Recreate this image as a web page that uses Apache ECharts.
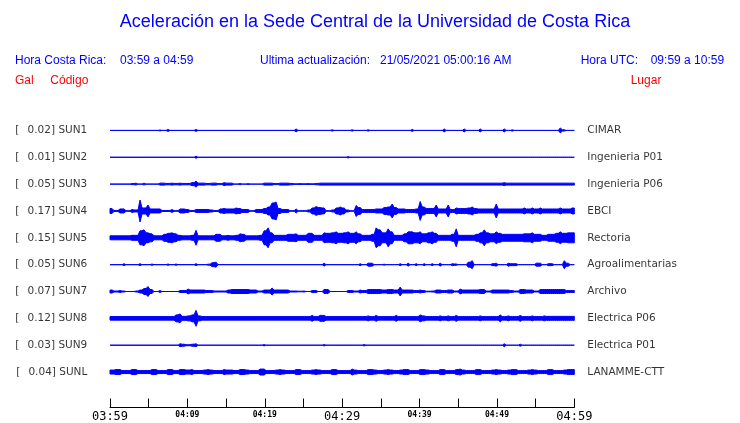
<!DOCTYPE html>
<html>
<head>
<meta charset="utf-8">
<script src="https://cdn.jsdelivr.net/npm/echarts@6/dist/echarts.min.js"></script>
<style>html,body{margin:0;padding:0;background:#fff}#c{width:740px;height:423px}</style>
</head>
<body>
<div id="c"></div>
<script>
// ---- data ----
const STATIONS = ['SUN1','SUN2','SUN3','SUN4','SUN5','SUN6','SUN7','SUN8','SUN9','SUNL'];
const PLACES = ['CIMAR','Ingenieria P01','Ingenieria P06','EBCI','Rectoria','Agroalimentarias','Archivo','Electrica P06','Electrica P01','LANAMME-CTT'];
const GAL = [0.02,0.01,0.05,0.17,0.15,0.05,0.07,0.12,0.03,0.04];
const TICK_MINUTES = [0,10,20,30,40,50,60];
const TICK_LABELS = ['03:59','04:09','04:19','04:29','04:39','04:49','04:59'];
const MAJOR_LABELS = ['03:59','04:29','04:59'];

// trace envelopes: half-amplitude per 30-second bin (116 bins over the hour)
const AMP_SUN1 = [
0,0,0,0,0,0,0,0,0,0,
0,0,0.5,0,1,0,0,0,0,0,
0,1,0,0,0,0,0,0,0,0,
0,0,0,0,0,0,0,0,0,0,
0,0,0,0,0,0,1.5,0,0,0,
0,0,0,0,0,0.7,0,0,0,0,
0.7,0,0,0,0.7,0,0,0,0,0,
0,0,0,0,0,1,0,0,0,0,
0,0,0,1.5,0,0,0,0,1.5,0,
0,0,1.5,0,0,0,0,0,1.5,0,
0.7,0,0,0,0,0,0,0,0,0,
0,0,2.5,0.7,0,0];
const AMP_SUN2 = [
0,0,0,0,0,0,0,0,0,0,
0,0,0,0,0,0,0,0,0,0,
0,1,0,0,0,0,0,0,0,0,
0,0,0,0,0,0,0,0,0,0,
0,0,0,0,0,0,0,0,0,0,
0,0,0,0,0,0,0,0,0,0.7,
0,0,0,0,0,0,0,0,0,0,
0,0,0,0,0,0,0,0,0,0,
0,0,0,0,0,0,0,0,0,0,
0,0,0,0,0,0,0,0,0,0,
0,0,0,0,0,0,0,0,0,0,
0,0,0,0,0,0];
const AMP_SUN3 = [
0,0,0,0,0,0.5,1,0,1,0,
0,0,1,1,0.7,1,0.7,1,0.7,0.7,
1.5,3,1,1,0.7,1,1,0.5,1.5,1,
1,0,0.7,0,0.5,0,0,0,1,1,
1,0.5,1,1,1,0.7,0.3,0.5,0.3,0.5,
0.3,0.7,1,1,1,1,1,1,1,1,
1,1,1,1,1,1,1,1,1,1,
1,1,1,1,1,1,1,1,1,1,
1,1,1,1,1,1,1,1,1,1,
1,1,1,1,1,1,1,1,1.5,1,
1,1,1,1,1,1,1,1,1,1,
1,1,1,1,1,1];
const AMP_SUN4 = [
2.5,0.5,2,2,0.3,1.5,1,11,3,6,
2,2,2,0.5,0.5,1.5,0.3,2,2,1.5,
0.5,1.5,1.5,1.5,1.5,1,0.5,2,2.5,2,
2,3,2.5,1.5,1.5,0.3,1.5,1.5,2.5,4,
8,9,2.5,1.5,1.5,0.3,2,0.3,0.3,1,
3,4.5,3.5,3,0.3,1,3,4,3,1,
0.3,5.5,3.5,1.5,1.5,1.5,2,2,3.5,4,
7,3.5,2,2,1.5,1.5,2,9.5,4,2.5,
2.5,6,2,2,6,1.5,3,2.5,2.5,3,
4,2.5,2,2,2,2,7,2,2,2,
2,2,2,3,2,3,2,3,2,2,
2,2,3,2,2,3];
const AMP_SUN5 = [
2,2,2,2,2,2.5,2.5,7,8,5,
4,2,2,3.5,4.5,5,4,2.5,2,2,
2.5,7.5,2,2,2,2,3.5,3.5,2,2.5,
2,2.5,4,3.5,2,2,2,2.5,7,10,
5,2.5,2.5,2.5,3.5,3.5,4,2.5,2.5,4.5,
4.5,2.5,2.5,5,4.5,5,6,4.5,5,6,
4.5,6,4,2.5,2.5,3.5,10,8,5,9,
6,2.5,2.5,4,6,6,5,6,4,5,
6,4.5,2.5,2.5,2.5,3.5,9,2.5,2.5,2.5,
2.5,3.5,5,8,5,4,6,4.5,3.5,3.5,
3.5,3.5,3.5,4,4,5,3.5,3.5,2.5,3.5,
3.5,4.5,6,4.5,5,5];
const AMP_SUN6 = [
0,0,0,1,0,0,0,1,0,0,
0.7,0,0,0,0.7,0,0.7,0,0,0,
0,1,0,0,0.5,2,2.5,0,0,0,
0,0,0,0,0,0,0,0,0,0,
0,0,0,0,0,0,0,0,0,0,
0,0,0,1.5,0,0,0,0,0,0,
0,0,1,0,1.5,1.5,0,0,0.5,0,
0,0,1,0,1.5,0,1,0,1,0,
1,0,1.5,0,0,1,0.7,0,0,2.5,
4,0,0,0,0,1,1.5,0,0,1.5,
1,1,0,0,0,0,1.5,1.5,0,1,
1,0,0,4,1.5,0];
const AMP_SUN7 = [
1.5,0.5,1,0.5,0,0,0.5,1.5,3,5,
2,0,1,0,0,0,0,1,1,2.5,
1.5,1.5,1.5,1.5,1,1,0.5,0.5,0.5,1.5,
2,2,2,2,2,1.5,1.5,0.5,1.5,1.5,
3.5,1.5,1.5,1.5,1.5,0.5,0.5,0.3,0.5,0,
1,1,0,2,2,0,0,0,0,1,
1,0.5,1.5,1,2,2,2,2,1.5,2,
2,1.5,4.5,1.5,1.5,1.5,1,1.5,1,0.3,
0.5,1.5,1.5,1,1.5,1.5,0.5,2.5,1.5,1.5,
1.5,1.5,2,2,0.5,1.5,1.5,1.5,1.5,1.5,
1,0.5,2,2,1.5,1.5,0.5,2,2,2,
2,2,2,2,1,1];
const AMP_SUN8 = [
1.8,1.8,1.8,1.8,1.8,1.8,1.8,1.8,1.8,1.8,
1.8,1.8,1.8,1.8,1.8,1.8,3.5,4.5,2,2.5,
3.5,8,2.5,1.8,1.8,1.8,1.8,1.8,1.8,1.8,
1.8,1.8,1.8,1.8,1.8,1.8,1.8,1.8,1.8,1.8,
1.8,1.8,1.8,1.8,1.8,1.8,1.8,1.8,1.8,1.8,
3,1.8,3,3,1.8,1.8,1.8,1.8,1.8,1.8,
1.8,1.8,1.8,1.8,2.5,1.8,3,1.8,1.8,1.8,
1.8,3,1.8,1.8,1.8,1.8,1.8,3.5,2.5,1.8,
1.8,1.8,2.5,1.8,2.5,1.8,3,1.8,1.8,1.8,
1.8,1.8,2.5,1.8,1.8,1.8,1.8,3.5,1.8,2.5,
1.8,1.8,3,1.8,1.8,2.5,1.8,1.8,2.5,2,
2,2,2,2,2,2];
const AMP_SUN9 = [
0,0,0,0,0,0,0,0,0,0,
0,0,0,0,0,0,0,1.5,1,0.5,
1,1.5,0,0,0,0,0,0,0,0,
0,0,0,0,0,0,0,0,0.7,0,
0,0,0,0,0,0,0,0,0,0,
0,0,0,0.7,0,0,0,0,0,0,
0,0,0,0.7,0,0,0,0,0,0,
0,0,0,0,0,0,0,0,0,0,
0,0,0,0,0,0,0,0,0,0,
0,0,0,0,0,0,0,0,1.5,0,
0,0,1,0,0,0,0,0,0,0,
0,0,0,0,0,0];
const AMP_SUNL = [
2,2.5,2.5,1.5,1.5,2.5,2.5,1.5,1.5,1.5,
2.5,2.5,1.5,1.5,2.5,2.5,1.5,2.5,2.5,2,
2.5,1.5,1.5,2,2.5,2,1.5,1.5,2.5,2,
2,1.5,2.5,2.5,2,1.5,1.5,3,3,1.5,
1.5,2,2.5,2,1.5,1.5,2.5,2.5,1.5,1.5,
2,2.5,2,1.5,1.5,2.5,2.5,1.5,1.5,1.5,
3,2,1.5,1.5,2.5,2.5,2,1.5,2,2.5,
2,1.5,2,2.5,2.5,1.5,1.5,2.5,2.5,2,
1.5,1.5,2.5,2.5,1.5,1.5,2.5,3,2,1.5,
1.5,2.5,2.5,1.5,1.5,2,2.5,2,1.5,2,
2.5,2.5,1.5,1.5,2,2.5,2,1.5,1.5,2.5,
2.5,1.5,1.5,2,2.5,2.5];
const AMPS = [AMP_SUN1,AMP_SUN2,AMP_SUN3,AMP_SUN4,AMP_SUN5,AMP_SUN6,AMP_SUN7,AMP_SUN8,AMP_SUN9,AMP_SUNL];

// ---- drawing ----
const BLUE = '#0000ff';
const RED = '#ff0000';
const ROW_GAIN = 1 / 27;           // amplitude units -> row units

// each trace is one custom item: an envelope polygon that peaks at each bin centre
// and drops to the lower neighbouring value at bin edges (gives spiky, solid bands)
function renderTrace(params, api) {
  const row = api.value(1);
  const amp = AMPS[params.dataIndex];
  const n = amp.length;
  function edge(i) {
    if (i <= 0) return amp[0];
    if (i >= n) return amp[n - 1];
    return Math.min(amp[i - 1], amp[i]);
  }
  const top = [], bot = [];
  for (let i = 0; i < n; i++) {
    top.push(api.coord([i, row - edge(i) * ROW_GAIN]), api.coord([i + 0.5, row - amp[i] * ROW_GAIN]));
    bot.push(api.coord([i, row + edge(i) * ROW_GAIN]), api.coord([i + 0.5, row + amp[i] * ROW_GAIN]));
  }
  top.push(api.coord([n, row - edge(n) * ROW_GAIN]));
  bot.push(api.coord([n, row + edge(n) * ROW_GAIN]));
  return {
    type: 'polygon',
    shape: { points: top.concat(bot.reverse()) },
    style: { fill: BLUE, stroke: BLUE, lineWidth: 1, lineJoin: 'bevel' }
  };
}

const series = [{
  type: 'custom', xAxisIndex: 1, yAxisIndex: 0, silent: true, animation: false, clip: false,
  data: STATIONS.map(function (s, i) { return [0, i]; }),
  renderItem: renderTrace
}];

series.push({
  type: 'scatter', xAxisIndex: 0, yAxisIndex: 0, symbolSize: 0, silent: true, animation: false,
  data: STATIONS.map(function (s, i) { return [0, i]; }),
  label: {
    show: true, position: 'left', distance: 22.7,
    fontFamily: 'DejaVu Sans', fontSize: 10.5, color: '#000',
    formatter: function (p) {
      const i = p.dataIndex;
      return '{a|[}' + GAL[i].toFixed(2) + '] ' + STATIONS[i];
    },
    rich: { a: { width: 12.3, align: 'left', fontFamily: 'DejaVu Sans', fontSize: 10.5, color: '#000' } }
  }
});
series.push({
  type: 'scatter', xAxisIndex: 0, yAxisIndex: 0, symbolSize: 0, silent: true, animation: false,
  data: PLACES.map(function (s, i) { return [60, i]; }),
  label: {
    show: true, position: 'right', distance: 13,
    fontFamily: 'DejaVu Sans', fontSize: 10.5, color: '#000',
    formatter: function (p) { return PLACES[p.dataIndex]; }
  }
});

function hdr(text, x, y, size, color, align) {
  return {
    type: 'text', x: x, y: y, silent: true,
    style: {
      text: text, fill: color, font: size + 'px "Liberation Sans", Arial, sans-serif',
      textAlign: align || 'left', align: align || 'left',
      textVerticalAlign: 'middle', verticalAlign: 'middle'
    }
  };
}

const option = {
  animation: false,
  backgroundColor: '#fff',
  grid: { left: 110, right: 165.7, top: 117, bottom: 13.5, containLabel: false },
  xAxis: [{
    type: 'value', min: 0, max: 60, interval: 5,
    axisLine: { show: true, onZero: false, lineStyle: { color: '#000', width: 1 } },
    axisTick: { show: true, inside: true, length: 9, lineStyle: { color: '#000', width: 1 } },
    splitLine: { show: false },
    axisLabel: {
      show: true, margin: 3, showMinLabel: true, showMaxLabel: true,
      formatter: function (v) {
        const idx = TICK_MINUTES.indexOf(v);
        if (idx < 0) return '';
        const lbl = TICK_LABELS[idx];
        return MAJOR_LABELS.indexOf(lbl) >= 0 ? '{big|' + lbl + '}' : '{small|' + lbl + '}';
      },
      rich: {
        big: { fontFamily: 'DejaVu Sans Mono', fontSize: 12, color: '#000', lineHeight: 13 },
        small: { fontFamily: 'DejaVu Sans Mono', fontSize: 8, fontWeight: 'bold', color: '#000', lineHeight: 9 }
      }
    }
  }, {
    type: 'value', min: 0, max: 116, show: false
  }],
  yAxis: [{ type: 'value', inverse: true, min: -0.5, max: 10.32, show: false }],
  series: series,
  graphic: [
    hdr('Aceleración en la Sede Central de la Universidad de Costa Rica', 375, 22, 18, BLUE, 'center'),
    hdr('Hora Costa Rica:', 15, 61, 12, BLUE),
    hdr('03:59 a 04:59', 120, 61, 12, BLUE),
    hdr('Ultima actualización:', 260, 61, 12, BLUE),
    hdr('21/05/2021 05:00:16 AM', 380, 61, 12, BLUE),
    hdr('Hora UTC:', 580.7, 61, 12, BLUE),
    hdr('09:59 a 10:59', 650.7, 61, 12, BLUE),
    hdr('Gal', 15, 80.5, 12, RED),
    hdr('Código', 50.3, 80.5, 12, RED),
    hdr('Lugar', 630.7, 80.5, 12, RED)
  ]
};

const chart = echarts.init(document.getElementById('c'), null, { renderer: 'canvas' });
chart.setOption(option);
</script>
</body>
</html>
